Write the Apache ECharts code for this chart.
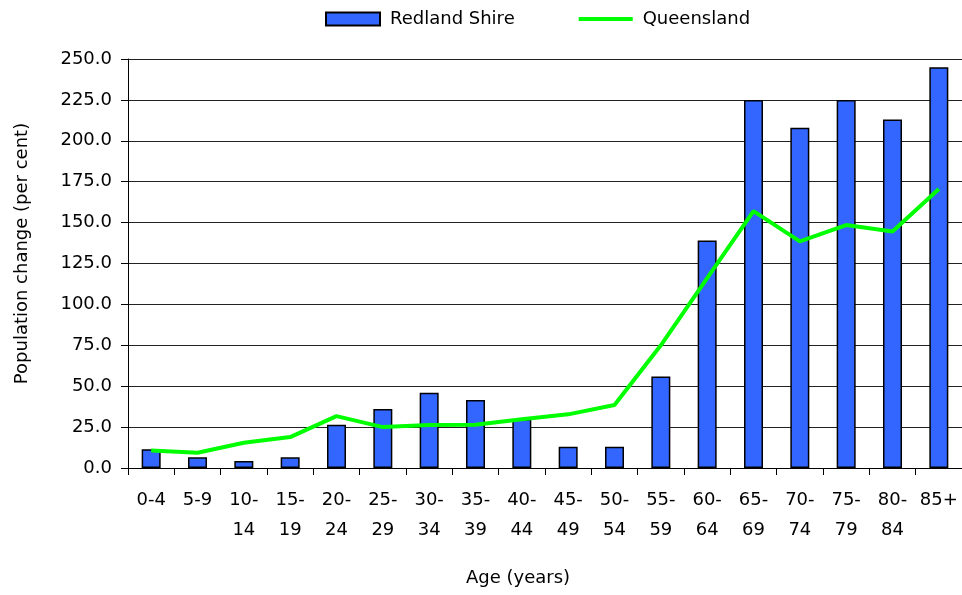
<!DOCTYPE html>
<html>
<head>
<meta charset="utf-8">
<script src="https://cdn.jsdelivr.net/npm/echarts@6/dist/echarts.min.js"></script>
<style>html,body{margin:0;padding:0;background:#fff}#c{width:962px;height:595px}</style>
</head>
<body>
<div id="c"></div>
<script>
var categories = ['0-4','5-9','10-\n14','15-\n19','20-\n24','25-\n29','30-\n34','35-\n39','40-\n44','45-\n49','50-\n54','55-\n59','60-\n64','65-\n69','70-\n74','75-\n79','80-\n84','85+'];
var redlandShire = [11.5, 6.5, 4.3, 6.5, 26.5, 36, 46, 41.5, 30, 13, 13, 56, 139, 225, 208, 225, 213, 245];
var queensland = [10.7, 9.3, 15.4, 18.9, 31.7, 25, 26.3, 26.4, 29.8, 32.8, 38.5, 75, 116, 157, 138.5, 148.5, 144.5, 170.5];
var yTicks = {min: 0, max: 250, interval: 25};

var FONT = 'DejaVu Sans';
var chart = echarts.init(document.getElementById('c'), null, {renderer: 'canvas'});
chart.setOption({
  animation: false,
  backgroundColor: '#fff',
  textStyle: {fontFamily: FONT},
  legend: {
    left: 325, top: 10, padding: 0,
    itemWidth: 54, itemHeight: 13, itemGap: 62,
    textStyle: {fontFamily: FONT, fontSize: 18, color: '#000', padding: [0, 0, 0, 5]},
    data: [
      {name: 'Redland Shire', icon: 'rect'},
      {name: 'Queensland', itemStyle: {opacity: 0}, lineStyle: {width: 4, color: '#00FF00'}}
    ]
  },
  grid: {left: 128, right: -5, top: 59, bottom: 127, containLabel: false},
  xAxis: {
    type: 'category',
    data: categories,
    name: 'Age (years)',
    nameLocation: 'middle',
    nameGap: 101,
    nameTextStyle: {fontFamily: FONT, fontSize: 18, color: '#000', padding: [0, 54, 0, 0]},
    axisLine: {lineStyle: {color: '#000', width: 1}},
    axisTick: {show: true, length: 7, lineStyle: {color: '#000'}},
    axisLabel: {fontFamily: FONT, fontSize: 18, color: '#000', margin: 17, lineHeight: 30, interval: 0},
    splitLine: {show: false}
  },
  yAxis: {
    type: 'value',
    min: yTicks.min, max: yTicks.max, interval: yTicks.interval,
    name: 'Population change (per cent)',
    nameLocation: 'middle',
    nameGap: 97,
    nameTextStyle: {fontFamily: FONT, fontSize: 18, color: '#000', padding: [0, 0, 0, 20]},
    axisLine: {show: true, lineStyle: {color: '#000', width: 1}},
    axisTick: {show: true, length: 7, lineStyle: {color: '#000'}},
    axisLabel: {fontFamily: FONT, fontSize: 18, color: '#000', margin: 16, formatter: function (v) { return v.toFixed(1); }},
    splitLine: {show: true, lineStyle: {color: '#222', width: 1}}
  },
  series: [
    {
      name: 'Redland Shire',
      type: 'bar',
      data: redlandShire,
      barWidth: 19,
      itemStyle: {color: '#3366FF', borderColor: '#000', borderWidth: 1.5}
    },
    {
      name: 'Queensland',
      type: 'line',
      data: queensland,
      symbol: 'none',
      lineStyle: {color: '#00FF00', width: 4},
      itemStyle: {color: '#00FF00'}
    }
  ]
});
</script>
</body>
</html>
